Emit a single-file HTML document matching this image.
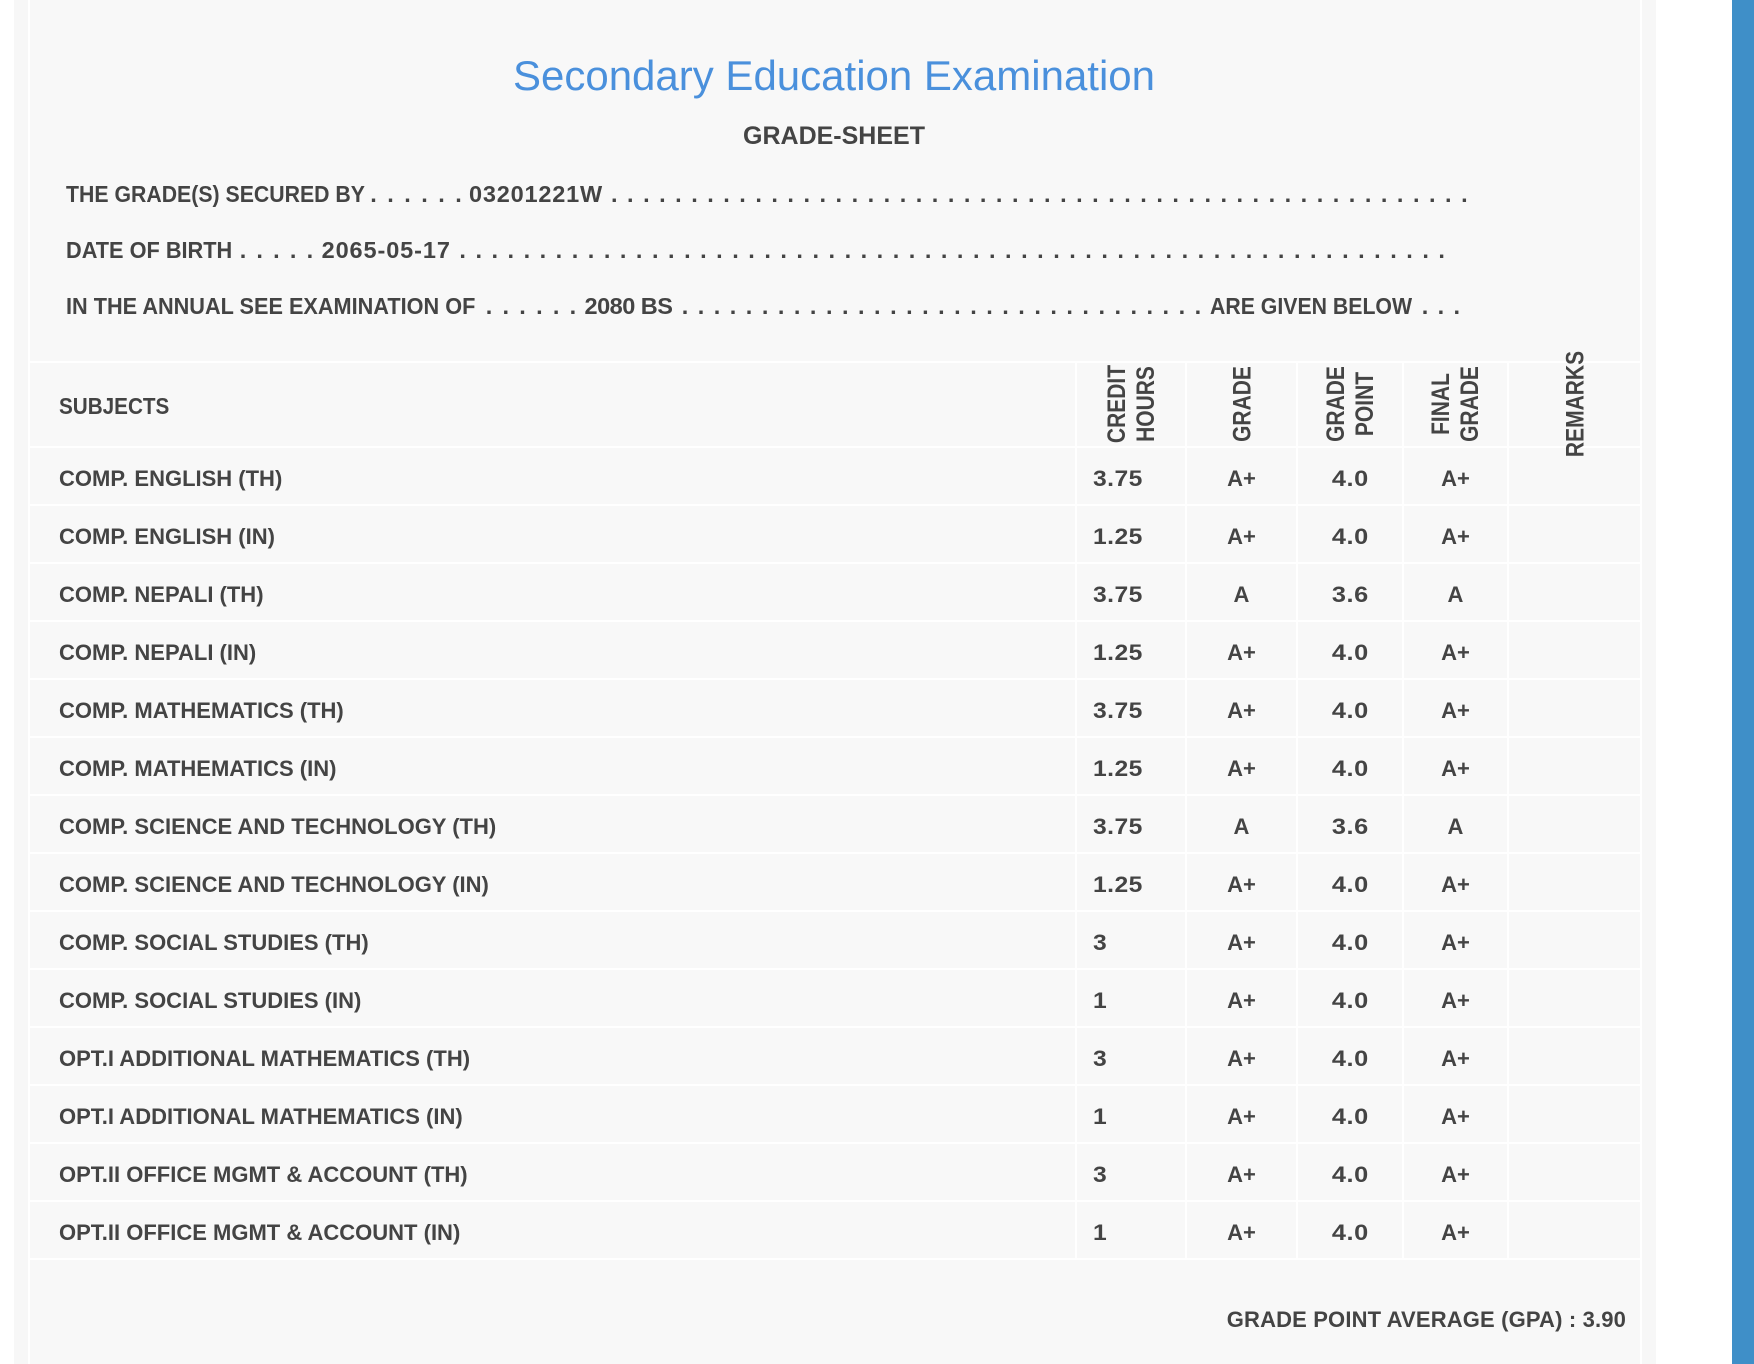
<!DOCTYPE html>
<html>
<head>
<meta charset="utf-8">
<style>
  html,body{margin:0;padding:0;}
  body{width:1754px;height:1364px;position:relative;overflow:hidden;background:#ffffff;
       font-family:"Liberation Sans",Arial,sans-serif;color:#444;}
  .abs{position:absolute;}
  #panel{position:absolute;left:14px;top:0;width:1642px;height:1364px;background:#f7f7f7;}
  #inner{position:absolute;left:28px;top:0;width:1614px;height:1364px;background:#f8f8f8;}
  .bl{position:absolute;background:#ffffff;}
  #blue{position:absolute;left:1732px;top:0;width:22px;height:1364px;background:#3f8fc8;}
  .t{position:absolute;white-space:nowrap;font-weight:bold;}
  .info{font-size:23.5px;line-height:30px;height:30px;transform-origin:0 50%;}
  .dots{font-size:23.5px;line-height:30px;height:30px;font-weight:bold;}
  .r{position:absolute;left:0;width:1754px;height:56px;}
  .r span{position:absolute;top:3px;height:56px;line-height:56px;font-size:22px;font-weight:bold;white-space:nowrap;}
  .r .s{left:59px;}
  .r .c{left:1093px;letter-spacing:0.4px;transform:scaleX(1.12);transform-origin:0 50%;}
  .r .g{left:1187px;width:109px;text-align:center;}
  .r .p{left:1298px;width:104px;text-align:center;letter-spacing:0.5px;padding-left:0.5px;box-sizing:border-box;transform:scaleX(1.15);transform-origin:50% 50%;}
  .r .f{left:1404px;width:103px;text-align:center;}
  .vh{position:absolute;width:150px;height:58px;line-height:29px;font-size:25px;font-weight:bold;
      text-align:center;white-space:nowrap;transform:translate(-50%,-50%) rotate(-90deg) scaleX(0.84);}
  .vh1{height:29px;}
</style>
</head>
<body>
<div id="panel"></div>
<div id="inner"></div>
<div id="blue"></div>

<div class="bl" style="left:28px;top:0;width:2px;height:1364px;"></div>
<div class="bl" style="left:1640px;top:0;width:2px;height:1364px;"></div>

<!-- Title -->
<div class="abs" style="left:28px;top:51px;width:1612px;height:50px;line-height:50px;text-align:center;font-size:42px;color:#4a90dc;white-space:nowrap;">Secondary Education Examination</div>
<div class="abs" style="left:28px;top:121px;width:1612px;height:30px;line-height:30px;text-align:center;font-size:25px;font-weight:bold;color:#444;white-space:nowrap;">GRADE-SHEET</div>

<!-- Info line 1 -->
<div class="t info" style="left:66px;top:179px;transform:scaleX(0.905);">THE GRADE(S) SECURED BY</div>
<div class="t dots" style="left:370.3px;top:179px;letter-spacing:10.47px;">......</div>
<div class="t info" style="left:469px;top:179px;letter-spacing:0.8px;">03201221W</div>
<div class="t dots" style="left:611px;top:179px;letter-spacing:9.51px;">......................................................</div>

<!-- Info line 2 -->
<div class="t info" style="left:66px;top:235px;transform:scaleX(0.925);">DATE OF BIRTH</div>
<div class="t dots" style="left:239.7px;top:235px;letter-spacing:10.22px;">.....</div>
<div class="t info" style="left:321.6px;top:235px;letter-spacing:0.9px;">2065-05-17</div>
<div class="t dots" style="left:459.4px;top:235px;letter-spacing:9.52px;">..............................................................</div>

<!-- Info line 3 -->
<div class="t info" style="left:66px;top:291px;transform:scaleX(0.923);">IN THE ANNUAL SEE EXAMINATION OF</div>
<div class="t dots" style="left:485.7px;top:291px;letter-spacing:10.27px;">......</div>
<div class="t info" style="left:584.5px;top:291px;letter-spacing:-0.5px;">2080 BS</div>
<div class="t dots" style="left:681.7px;top:291px;letter-spacing:9.5px;">.................................</div>
<div class="t info" style="left:1210px;top:291px;transform:scaleX(0.905);">ARE GIVEN BELOW</div>
<div class="t dots" style="left:1421.7px;top:291px;letter-spacing:9.37px;">...</div>

<!-- Table horizontal lines -->
<div class="bl" style="left:30px;top:361px;width:1610px;height:2px;"></div>
<div class="bl" style="left:30px;top:446px;width:1610px;height:2px;"></div>
<div class="bl" style="left:30px;top:504px;width:1610px;height:2px;"></div>
<div class="bl" style="left:30px;top:562px;width:1610px;height:2px;"></div>
<div class="bl" style="left:30px;top:620px;width:1610px;height:2px;"></div>
<div class="bl" style="left:30px;top:678px;width:1610px;height:2px;"></div>
<div class="bl" style="left:30px;top:736px;width:1610px;height:2px;"></div>
<div class="bl" style="left:30px;top:794px;width:1610px;height:2px;"></div>
<div class="bl" style="left:30px;top:852px;width:1610px;height:2px;"></div>
<div class="bl" style="left:30px;top:910px;width:1610px;height:2px;"></div>
<div class="bl" style="left:30px;top:968px;width:1610px;height:2px;"></div>
<div class="bl" style="left:30px;top:1026px;width:1610px;height:2px;"></div>
<div class="bl" style="left:30px;top:1084px;width:1610px;height:2px;"></div>
<div class="bl" style="left:30px;top:1142px;width:1610px;height:2px;"></div>
<div class="bl" style="left:30px;top:1200px;width:1610px;height:2px;"></div>
<div class="bl" style="left:30px;top:1258px;width:1610px;height:2px;"></div>

<!-- Table vertical lines -->
<div class="bl" style="left:1075px;top:361px;width:2px;height:899px;"></div>
<div class="bl" style="left:1185px;top:361px;width:2px;height:899px;"></div>
<div class="bl" style="left:1296px;top:361px;width:2px;height:899px;"></div>
<div class="bl" style="left:1402px;top:361px;width:2px;height:899px;"></div>
<div class="bl" style="left:1507px;top:361px;width:2px;height:899px;"></div>

<!-- Header row -->
<div class="t" style="left:59px;top:391px;font-size:23.5px;line-height:30px;transform:scaleX(0.88);transform-origin:0 50%;">SUBJECTS</div>
<div class="vh" style="left:1132px;top:404px;">CREDIT<br>HOURS</div>
<div class="vh vh1" style="left:1243px;top:404px;">GRADE</div>
<div class="vh" style="left:1351px;top:404px;">GRADE<br>POINT</div>
<div class="vh" style="left:1456px;top:404px;">FINAL<br>GRADE</div>
<div class="vh vh1" style="left:1576px;top:404px;">REMARKS</div>

<!-- Rows -->
<div class="r" style="top:448px;"><span class="s">COMP. ENGLISH (TH)</span><span class="c">3.75</span><span class="g">A+</span><span class="p">4.0</span><span class="f">A+</span></div>
<div class="r" style="top:506px;"><span class="s">COMP. ENGLISH (IN)</span><span class="c">1.25</span><span class="g">A+</span><span class="p">4.0</span><span class="f">A+</span></div>
<div class="r" style="top:564px;"><span class="s">COMP. NEPALI (TH)</span><span class="c">3.75</span><span class="g">A</span><span class="p">3.6</span><span class="f">A</span></div>
<div class="r" style="top:622px;"><span class="s">COMP. NEPALI (IN)</span><span class="c">1.25</span><span class="g">A+</span><span class="p">4.0</span><span class="f">A+</span></div>
<div class="r" style="top:680px;"><span class="s">COMP. MATHEMATICS (TH)</span><span class="c">3.75</span><span class="g">A+</span><span class="p">4.0</span><span class="f">A+</span></div>
<div class="r" style="top:738px;"><span class="s">COMP. MATHEMATICS (IN)</span><span class="c">1.25</span><span class="g">A+</span><span class="p">4.0</span><span class="f">A+</span></div>
<div class="r" style="top:796px;"><span class="s">COMP. SCIENCE AND TECHNOLOGY (TH)</span><span class="c">3.75</span><span class="g">A</span><span class="p">3.6</span><span class="f">A</span></div>
<div class="r" style="top:854px;"><span class="s">COMP. SCIENCE AND TECHNOLOGY (IN)</span><span class="c">1.25</span><span class="g">A+</span><span class="p">4.0</span><span class="f">A+</span></div>
<div class="r" style="top:912px;"><span class="s">COMP. SOCIAL STUDIES (TH)</span><span class="c">3</span><span class="g">A+</span><span class="p">4.0</span><span class="f">A+</span></div>
<div class="r" style="top:970px;"><span class="s">COMP. SOCIAL STUDIES (IN)</span><span class="c">1</span><span class="g">A+</span><span class="p">4.0</span><span class="f">A+</span></div>
<div class="r" style="top:1028px;"><span class="s">OPT.I ADDITIONAL MATHEMATICS (TH)</span><span class="c">3</span><span class="g">A+</span><span class="p">4.0</span><span class="f">A+</span></div>
<div class="r" style="top:1086px;"><span class="s">OPT.I ADDITIONAL MATHEMATICS (IN)</span><span class="c">1</span><span class="g">A+</span><span class="p">4.0</span><span class="f">A+</span></div>
<div class="r" style="top:1144px;"><span class="s">OPT.II OFFICE MGMT &amp; ACCOUNT (TH)</span><span class="c">3</span><span class="g">A+</span><span class="p">4.0</span><span class="f">A+</span></div>
<div class="r" style="top:1202px;"><span class="s">OPT.II OFFICE MGMT &amp; ACCOUNT (IN)</span><span class="c">1</span><span class="g">A+</span><span class="p">4.0</span><span class="f">A+</span></div>

<!-- GPA -->
<div class="t" style="left:1026px;top:1307px;width:600px;text-align:right;font-size:22px;line-height:26px;letter-spacing:0.15px;">GRADE POINT AVERAGE (GPA) : 3.90</div>
</body>
</html>
